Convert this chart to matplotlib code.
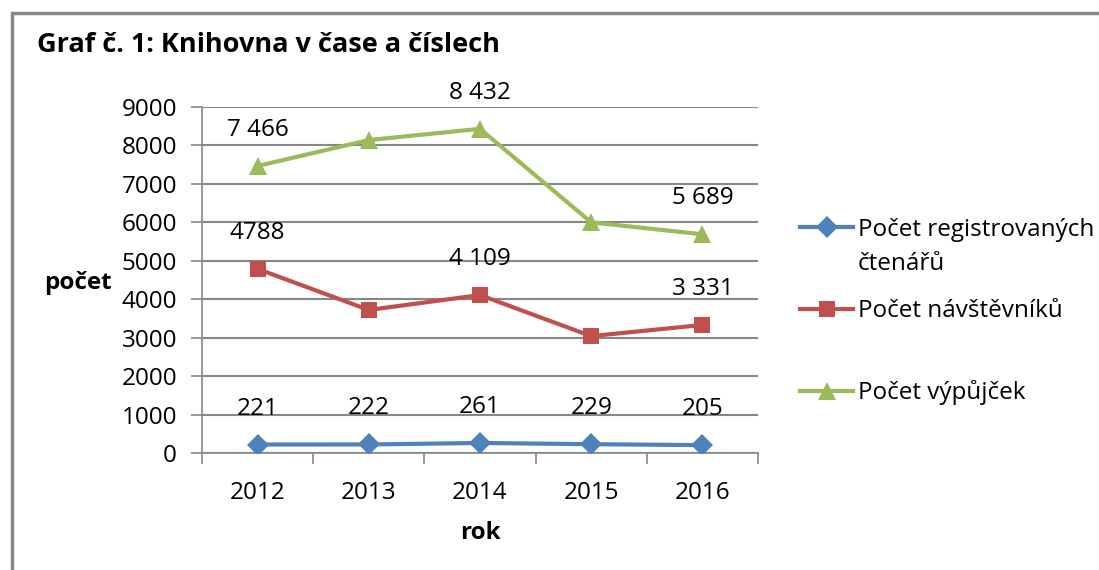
import matplotlib
matplotlib.use("Agg")
import matplotlib.pyplot as plt
from matplotlib.patches import Rectangle

plt.rcParams['font.family'] = ['Open Sans', 'DejaVu Sans']

years = ['2012', '2013', '2014', '2015', '2016']
ctenari = [221, 222, 261, 229, 205]
navstevnici = [4788, 3720, 4109, 3040, 3331]
vypujcky = [7466, 8140, 8432, 6000, 5689]

ctenari_labels = ['221', '222', '261', '229', '205']
navstevnici_labels = ['4788', None, '4 109', None, '3 331']
vypujcky_labels = ['7 466', None, '8 432', None, '5 689']

series_names = ['Počet registrovaných', 'Počet návštěvníků', 'Počet výpůjček']
colors = ['#4F81BD', '#C0504D', '#9BBB59']
markers = ['D', 's', '^']
marker_sizes = [11, 12, 13]

FS = 17.5
W, H = 1099, 570
fig = plt.figure(figsize=(W / 100, H / 100), dpi=100)

# frame around the chart (only top and left visible)
fig.patches.append(Rectangle((12 / W, -0.2), 1.2, 1.2 - 13 / H,
                             transform=fig.transFigure, fill=False,
                             edgecolor='#878787', linewidth=2.5))

ax = fig.add_axes([202 / W, (H - 453) / H, 556 / W, 346 / H])

x = list(range(len(years)))
data = [ctenari, navstevnici, vypujcky]
labels = [ctenari_labels, navstevnici_labels, vypujcky_labels]
handles = []
for vals, labs, c, m, ms in zip(data, labels, colors, markers, marker_sizes):
    h, = ax.plot(x, vals, color=c, marker=m, markersize=ms, linewidth=3,
                 markeredgewidth=0, zorder=3)
    handles.append(h)
    for xi, v, t in zip(x, vals, labs):
        if t is None:
            continue
        ax.annotate(t, (xi, v), xytext=(0, 36), textcoords='offset pixels',
                    ha='center', va='center', fontsize=FS, color='black')

ax.set_ylim(0, 9000)
ax.set_yticks(range(0, 9001, 1000))
ax.set_xlim(-0.5, 4.5)
ax.set_xticks([i - 0.5 for i in range(len(years) + 1)])
ax.set_xticklabels([])
ax.set_xticks(x, minor=True)
ax.set_xticklabels(years, minor=True)
ax.tick_params(axis='x', which='major', length=8, width=1.2, color='#878787',
               direction='out')
ax.tick_params(axis='x', which='minor', length=0, pad=20, labelsize=FS)
ax.tick_params(axis='y', length=8, width=1.2, color='#878787', pad=10,
               labelsize=FS)
ax.grid(axis='y', color='#878787', linewidth=1.5)
ax.set_axisbelow(True)
for s in ['top', 'right']:
    ax.spines[s].set_visible(False)
for s in ['left', 'bottom']:
    ax.spines[s].set_color('#878787')
    ax.spines[s].set_linewidth(1.2)

ax.set_xlabel('rok', fontsize=FS, fontweight='bold', labelpad=12)
ax.set_ylabel('počet', fontsize=FS, fontweight='bold', rotation=0,
              ha='right', va='center')
ax.yaxis.set_label_coords((112 - 202) / 556, (453 - 283) / 346)

fig.text(37 / W, 1 - 45 / H, 'Graf č. 1: Knihovna v čase a číslech',
         fontsize=19.5, fontweight='bold', ha='left', va='center')

leg = fig.legend(handles, series_names, loc='upper left',
                 bbox_to_anchor=(800 / W, 1 - 218 / H), frameon=False,
                 fontsize=FS, handlelength=2.2, handletextpad=0.2,
                 labelspacing=2.35, borderpad=0, borderaxespad=0)
fig.text(858 / W, 1 - 264 / H, 'čtenářů', fontsize=FS, ha='left', va='center')

fig.savefig('out.png', dpi=100)
